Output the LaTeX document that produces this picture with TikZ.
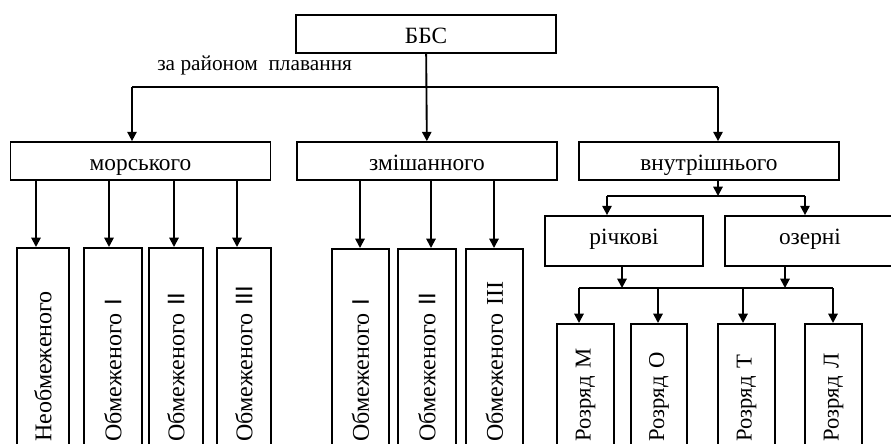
\documentclass[tikz,border=0pt]{standalone}
\usepackage{fontspec}
\setmainfont{Liberation Serif}
\setsansfont{Liberation Sans}
\usetikzlibrary{arrows.meta,positioning}

\begin{document}
\begin{tikzpicture}[x=0.75pt,y=-0.75pt,
  txt/.style={font=\fontsize{17.5}{20}\selectfont,text height=17pt,text depth=3pt},
  box/.style={draw,line width=1.3pt,inner sep=0pt,txt,minimum height=28.5pt,minimum width=195pt},
  tallbox/.style={draw,line width=1.3pt,rotate=90,inner xsep=3.75pt,inner ysep=0pt,align=left,anchor=east,
    font=\fontsize{18}{20}\selectfont},
  arr/.style={line width=1.4pt,-{Triangle[length=7pt,width=7pt]}},
  link/.style={line width=1.4pt}]
\useasboundingbox (0,0) rectangle (891,443);

% top level
\node[box] (bbs) at (426,34) {ББС};
\node[anchor=west,inner sep=0pt,font=\fontsize{16}{18}\selectfont] (area) at (157,65) {за районом\ \ плавання};
\node[box] (mor) at (140.5,161) {морського};
\node[box] (zmish) at (427,161) {змішанного};
\node[box] (vnut) at (709,161) {внутрішнього};
\node[box,minimum width=118.5pt,minimum height=37.5pt,text height=8pt] (rich) at (624,241) {річкові};
\node[box,minimum width=127.5pt,minimum height=37.5pt,text height=8pt] (ozer) at (810,241) {озерні};

% vertical boxes
\foreach \n/\x/\w/\t in {n1/43/39pt/Необмеженого,
    n2/113/43.5pt/Обмеженого {\sffamily I},
    n3/176/40.5pt/Обмеженого {\sffamily II},
    n4/244/40.5pt/Обмеженого {\sffamily III}}
  \node[tallbox,minimum height=\w,minimum width=149.25pt,text width=141.75pt] (\n) at (\x,247) {\t};
\foreach \n/\x/\w/\t in {m1/360.5/42.75pt/Обмеженого {\sffamily I},
    m2/427/43.5pt/Обмеженого {\sffamily II},
    m3/494.5/42.75pt/Обмеженого III}
  \node[tallbox,minimum height=\w,minimum width=148.5pt,text width=141pt] (\n) at (\x,248) {\t};
\foreach \n/\x/\w/\t in {r1/585.5/42.75pt/Розряд М, r2/659/42pt/Розряд О,
    r3/746.5/42.75pt/Розряд Т, r4/833.5/42.75pt/Розряд Л}
  \node[tallbox,font=\fontsize{17}{20}\selectfont,minimum height=\w,minimum width=92.25pt,text width=84.75pt] (\n) at (\x,323) {\t};

% connectors
\coordinate (jl) at (132,87);
\coordinate (jr) at (718,87);
\draw[arr] (bbs) -- (zmish);
\draw[link] (jl) -- (jr);
\draw[arr] (jl) -- (jl |- mor.north);
\draw[arr] (jr) -- (jr |- vnut.north);

\foreach \n/\x in {n1/36,n2/109,n3/174,n4/237}{
  \coordinate (t) at (\x,0);
  \draw[arr] (t |- mor.south) -- (t |- \n.east);
}
\foreach \n/\x in {m1/360,m2/431,m3/494}{
  \coordinate (t) at (\x,0);
  \draw[arr] (t |- zmish.south) -- (t |- \n.east);
}

\coordinate (jv) at (718,196);
\coordinate (jvl) at (607,196);
\coordinate (jvr) at (805,196);
\draw[arr] (jv |- vnut.south) -- (jv);
\draw[link] (jvl) -- (jvr);
\draw[arr] (jvl) -- (jvl |- rich.north);
\draw[arr] (jvr) -- (jvr |- ozer.north);

\coordinate (jb1) at (622,288);
\coordinate (jb2) at (785,288);
\coordinate (jbl) at (579,288);
\coordinate (jbr) at (833,288);
\draw[arr] (jb1 |- rich.south) -- (jb1);
\draw[arr] (jb2 |- ozer.south) -- (jb2);
\draw[link] (jbl) -- (jbr);
\foreach \n/\x in {r1/579,r2/658,r3/743,r4/833}{
  \coordinate (t) at (\x,288);
  \draw[arr] (t) -- (t |- \n.east);
}
\end{tikzpicture}
\end{document}
